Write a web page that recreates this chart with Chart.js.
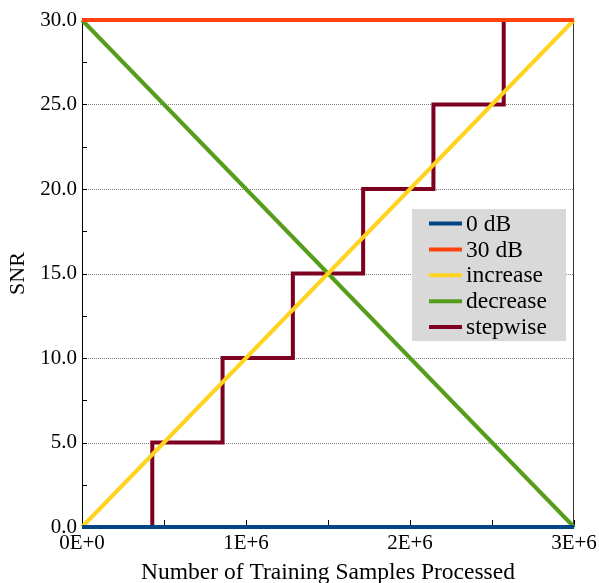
<!DOCTYPE html>
<html>
<head>
<meta charset="utf-8">
<script src="https://cdn.jsdelivr.net/npm/chart.js@4/dist/chart.umd.min.js"></script>
<style>
html,body{margin:0;padding:0;background:#fff;}
#wrap{position:relative;width:599px;height:583px;}
</style>
</head>
<body>
<div id="wrap"><canvas id="c" width="599" height="583"></canvas></div>
<script>
// ---- data ----
const seriesNames = ['0 dB', '30 dB', 'increase', 'decrease', 'stepwise'];
const seriesColors = ['#004586', '#ff420e', '#ffd320', '#579d1c', '#7e0021'];
const lineX = [0, 3000000];
const zeroDbY = [0, 0];
const thirtyDbY = [30, 30];
const increaseY = [0, 30];
const decreaseY = [30, 0];
const stepX = [0, 428571, 857143, 1285714, 1714286, 2142857, 2571429, 3000000];
const stepY = [0, 5, 10, 15, 20, 25, 30, 30];
const xTickValues = [0, 1000000, 2000000, 3000000];
const xTickLabels = ['0E+0', '1E+6', '2E+6', '3E+6'];
const yTickValues = [0, 5, 10, 15, 20, 25, 30];
const yTickLabels = ['0.0', '5.0', '10.0', '15.0', '20.0', '25.0', '30.0'];
const xTitle = 'Number of Training Samples Processed';
const yTitle = 'SNR';

const FONT = "'Liberation Serif', 'DejaVu Serif', serif";

function pts(xs, ys) { return xs.map((x, i) => ({x: x, y: ys[i]})); }
const seriesData = [
  pts(lineX, zeroDbY),
  pts(lineX, thirtyDbY),
  pts(lineX, increaseY),
  pts(lineX, decreaseY),
  pts(stepX, stepY)
];

const datasets = seriesNames.map((n, i) => ({
  label: n,
  data: seriesData[i],
  borderColor: seriesColors[i],
  backgroundColor: seriesColors[i],
  borderWidth: 4,
  pointRadius: 0,
  fill: false,
  tension: 0,
  clip: false,
  stepped: i === 4 ? 'before' : false,
  borderCapStyle: 'butt',
  borderJoinStyle: 'miter'
}));

const framePlugin = {
  id: 'frame',
  beforeDatasetsDraw(chart) {
    const {ctx, chartArea: a, scales} = chart;
    const xs = scales.x, ys = scales.y;
    ctx.save();
    // dotted gridlines
    ctx.strokeStyle = '#808080';
    ctx.lineWidth = 1;
    ctx.setLineDash([1, 1]);
    yTickValues.forEach(v => {
      if (v === 0 || v === 30) return;
      const py = Math.round(ys.getPixelForValue(v)) + 0.5;
      ctx.beginPath(); ctx.moveTo(a.left, py); ctx.lineTo(a.right, py); ctx.stroke();
    });
    ctx.setLineDash([]);
    // frame lines
    ctx.strokeStyle = '#000';
    ctx.beginPath();
    ctx.moveTo(a.left + 0.5, a.top); ctx.lineTo(a.left + 0.5, a.bottom);
    ctx.stroke();
    ctx.strokeStyle = '#333';
    ctx.beginPath();
    ctx.moveTo(a.right - 0.5, a.top); ctx.lineTo(a.right - 0.5, a.bottom);
    ctx.stroke();
    // inward ticks
    ctx.strokeStyle = '#000';
    for (let v = 0; v <= 30; v += 2.5) {
      const py = Math.round(ys.getPixelForValue(v)) + 0.5;
      ctx.beginPath(); ctx.moveTo(a.left, py); ctx.lineTo(a.left + 5, py); ctx.stroke();
    }
    for (let v = 0; v <= 3000000; v += 500000) {
      const px = Math.round(xs.getPixelForValue(v)) + 0.5;
      ctx.beginPath(); ctx.moveTo(px, a.bottom); ctx.lineTo(px, a.bottom - 7); ctx.stroke();
    }
    ctx.restore();
  },
  afterDraw(chart) {
    const {ctx, chartArea: a} = chart;
    const bx = a.right - 162, by = 209, bw = 154, bh = 132;
    ctx.save();
    ctx.fillStyle = '#d9d9d9';
    ctx.fillRect(bx, by, bw, bh);
    ctx.font = '23.5px ' + FONT;
    ctx.textBaseline = 'middle';
    ctx.textAlign = 'left';
    chart.data.datasets.forEach((d, i) => {
      const cy = by + 14.5 + i * 25.9;
      ctx.strokeStyle = d.borderColor;
      ctx.lineWidth = 4;
      ctx.beginPath(); ctx.moveTo(bx + 17, cy); ctx.lineTo(bx + 50, cy); ctx.stroke();
      ctx.fillStyle = '#000';
      ctx.fillText(d.label, bx + 54, cy + 1);
    });
    ctx.restore();
  }
};

new Chart(document.getElementById('c'), {
  type: 'line',
  data: {datasets: datasets},
  plugins: [framePlugin],
  options: {
    responsive: false,
    animation: false,
    devicePixelRatio: 1,
    layout: {padding: {left: 0, right: 25, top: 20, bottom: 0}},
    plugins: {legend: {display: false}, tooltip: {enabled: false}},
    scales: {
      x: {
        type: 'linear',
        min: 0, max: 3000000,
        afterBuildTicks(s) { s.ticks = xTickValues.map(v => ({value: v})); },
        afterFit(s) { s.height = 56; s.paddingLeft = 0; s.paddingRight = 0; },
        grid: {display: false, drawTicks: false},
        border: {display: false},
        ticks: {
          padding: 4, color: '#000', maxRotation: 0, autoSkip: false,
          font: {family: FONT, size: 21},
          callback: (v) => xTickLabels[xTickValues.indexOf(v)]
        },
        title: {display: true, text: xTitle, color: '#000', font: {family: FONT, size: 23.5}, padding: {top: 0, bottom: -4}}
      },
      y: {
        type: 'linear',
        min: 0, max: 30,
        afterBuildTicks(s) { s.ticks = yTickValues.map(v => ({value: v})); },
        afterFit(s) { s.width = 82; s.paddingTop = 0; s.paddingBottom = 0; },
        grid: {display: false, drawTicks: false},
        border: {display: false},
        ticks: {
          padding: 5, color: '#000', autoSkip: false,
          font: {family: FONT, size: 21},
          callback: (v) => yTickLabels[yTickValues.indexOf(v)]
        },
        title: {display: true, text: yTitle, color: '#000', font: {family: FONT, size: 22}, padding: {top: 5, bottom: 0}}
      }
    }
  }
});
</script>
</body>
</html>
